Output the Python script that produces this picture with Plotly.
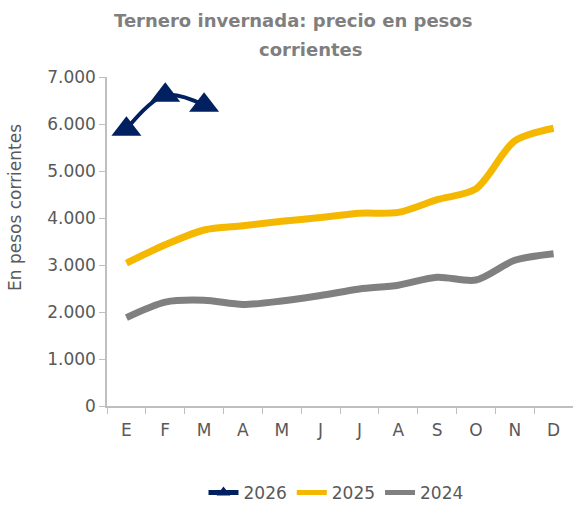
import plotly.graph_objects as go

months = ["E", "F", "M", "A", "M ", "J", "J ", "A ", "S", "O", "N", "D"]
month_labels = ["E", "F", "M", "A", "M", "J", "J", "A", "S", "O", "N", "D"]
y2026 = [5890, 6610, 6400]
y2025 = [3040, 3430, 3745, 3835, 3930, 4010, 4100, 4120, 4390, 4620, 5640, 5910]
y2024 = [1880, 2210, 2250, 2160, 2235, 2350, 2490, 2570, 2740, 2680, 3100, 3240]
yticks = [0, 1000, 2000, 3000, 4000, 5000, 6000, 7000]
ytick_labels = ["0", "1.000", "2.000", "3.000", "4.000", "5.000", "6.000", "7.000"]

FONT = "DejaVu Sans"
GRAY_TXT = "#595959"

fig = go.Figure()
fig.add_trace(go.Scatter(
    x=months[:len(y2026)], y=y2026, name="2026", mode="lines+markers",
    line=dict(color="#002060", width=4, shape="spline", smoothing=1),
    marker=dict(symbol="triangle-up", size=26, color="#002060"),
))
fig.add_trace(go.Scatter(
    x=months, y=y2025, name="2025", mode="lines",
    line=dict(color="#F5B800", width=7, shape="spline", smoothing=0.8),
))
fig.add_trace(go.Scatter(
    x=months, y=y2024, name="2024", mode="lines",
    line=dict(color="#808080", width=7, shape="spline", smoothing=0.8),
))

L, R, T, B = 107, 0, 77, 102
W, H = 573, 508
pw = W - L - R
ph = H - T - B

def px_x(x):
    return (x - L) / pw

def px_y(y):
    return 1 - (y - T) / ph

fig.update_layout(
    width=W, height=H, autosize=False,
    margin=dict(l=L, r=R, t=T, b=B, autoexpand=False),
    paper_bgcolor="white", plot_bgcolor="white",
    font=dict(family=FONT, color=GRAY_TXT, size=17),
    showlegend=True,
    legend=dict(orientation="h", x=px_x(336), xanchor="center", y=px_y(493), yanchor="middle",
                font=dict(size=17, color=GRAY_TXT), itemwidth=30, tracegroupgap=0,
                itemsizing="constant"),
    annotations=[
        dict(text="<b>Ternero invernada: precio en pesos</b>", x=px_x(293), y=px_y(20),
             xref="paper", yref="paper", showarrow=False, xanchor="center", yanchor="middle",
             font=dict(size=18, color="#7F7F7F", family=FONT)),
        dict(text="<b>corrientes</b>", x=px_x(311), y=px_y(50),
             xref="paper", yref="paper", showarrow=False, xanchor="center", yanchor="middle",
             font=dict(size=18, color="#7F7F7F", family=FONT)),
        dict(text="En pesos corrientes", x=px_x(15), y=px_y(208), textangle=-90,
             xref="paper", yref="paper", showarrow=False, xanchor="center", yanchor="middle",
             font=dict(size=17, color=GRAY_TXT, family=FONT)),
    ],
    xaxis=dict(
        type="category", categoryorder="array", categoryarray=months,
        tickvals=months, ticktext=month_labels, automargin=False,
        tickson="boundaries", ticks="outside", ticklen=6, tickcolor="#BFBFBF",
        ticklabelstandoff=8,
        showline=True, linecolor="#BFBFBF", linewidth=1.5,
        showgrid=False, zeroline=False, range=[-0.5, 11.5],
        tickfont=dict(size=17, color=GRAY_TXT),
    ),
    yaxis=dict(
        range=[0, 7000], tickvals=yticks, ticktext=ytick_labels, automargin=False,
        ticks="outside", ticklen=6, tickcolor="#BFBFBF",
        showline=True, linecolor="#BFBFBF", linewidth=1.5,
        showgrid=False, zeroline=False,
        tickfont=dict(size=17, color=GRAY_TXT),
    ),
)

fig.write_html("out.html", config={"displayModeBar": False},
               post_script="document.body.style.margin='0';document.body.style.overflow='hidden';")
